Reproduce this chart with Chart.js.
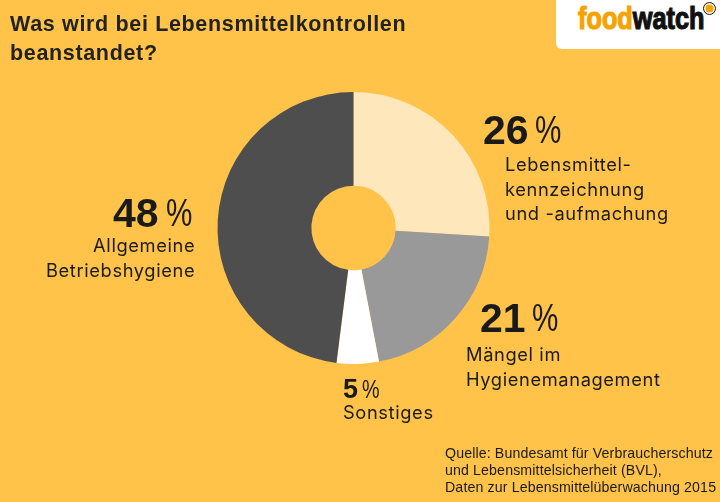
<!DOCTYPE html>
<html lang="de">
<head>
<meta charset="utf-8">
<title>Lebensmittelkontrollen</title>
<script src="https://cdn.jsdelivr.net/npm/chart.js@4"></script>
<style>
  html, body { margin: 0; padding: 0; }
  body { width: 720px; height: 502px; background: #ffc34a; position: relative; overflow: hidden; font-family: "Liberation Sans", sans-serif; color: #1a1a1a; }
  canvas { position: absolute; left: 0; top: 0; }
  .txt { position: absolute; white-space: pre; }
  #title { left: 10px; top: 10px; font-size: 21.5px; line-height: 29px; font-weight: bold; letter-spacing: 0.66px; color: #222; }
  #logoBox { position: absolute; left: 556px; top: 0; width: 164px; height: 49px; background: #fff; border-bottom-left-radius: 6px; }
  #logo { left: 578px; top: 1px; font-weight: bold; font-size: 30.5px; line-height: 34px; transform-origin: 0 0; transform: scaleX(0.83); color: #111; -webkit-text-stroke: 1.2px currentColor; }
  #logo span { color: #f5a300; }
  #reg { left: 703px; top: 2px; width: 11px; height: 11px; border: 1.5px solid #222; border-radius: 50%; background: #f5a300; box-shadow: inset 0 0 0 1.5px #fff; }
  .pct { line-height: 40px; font-weight: bold; }
  .sign { font-weight: normal; transform-origin: 0 50%; transform: scaleX(0.76); }
  .lab { font-family: Inter, sans-serif; font-size: 18.3px; line-height: 24.5px; letter-spacing: 0.62px; }
  #source { left: 445px; top: 444.5px; font-size: 14.2px; line-height: 17px; letter-spacing: 0.12px; }
</style>
</head>
<body>
<canvas id="pieChart" width="720" height="502"></canvas>
<div id="title" class="txt"></div>
<div id="logoBox"></div>
<div id="logo" class="txt"><span>food</span>watch</div>
<div id="reg" class="txt"></div>
<div id="source" class="txt"></div>
<script>
const titleLines = ["Was wird bei Lebensmittelkontrollen", "beanstandet?"];
const categories = ["Lebensmittelkennzeichnung und -aufmachung", "Mängel im Hygienemanagement", "Sonstiges", "Allgemeine Betriebshygiene"];
const shares = [26, 21, 5, 48];
const sliceColors = ["#fee8bb", "#999999", "#ffffff", "#4e4e4e"];
const sourceLines = ["Quelle: Bundesamt für Verbraucherschutz", "und Lebensmittelsicherheit (BVL),", "Daten zur Lebensmittelüberwachung 2015"];

// one entry per slice, same order as shares
const labelLines = [
  ["Lebensmittel-", "kennzeichnung", "und -aufmachung"],
  ["Mängel im", "Hygienemanagement"],
  ["Sonstiges"],
  ["Allgemeine", "Betriebshygiene"],
];
const pctPos = [[483, 110], [480, 298], [343, 369], [113, 193]];
const signPos = [[535, 110], [532, 298], [362, 369], [166, 193]];
const labPos = [[505, 152], [466, 342], [343, 400], [46, 233]];
const pctSize = [41, 41, 27, 41];
const signSize = [39, 39, 26, 39];
const labAlign = ["left", "left", "left", "right"];

document.getElementById("title").textContent = titleLines.join("\n");
document.getElementById("source").textContent = sourceLines.join("\n");

function addText(cls, text, pos, size) {
  const el = document.createElement("div");
  el.className = "txt " + cls;
  el.style.left = pos[0] + "px";
  el.style.top = pos[1] + "px";
  if (size) el.style.fontSize = size + "px";
  el.textContent = text;
  document.body.appendChild(el);
  return el;
}

shares.forEach((v, i) => {
  addText("pct", String(v), pctPos[i], pctSize[i]);
  addText("pct sign", "%", signPos[i], signSize[i]);
  addText("lab", labelLines[i].join("\n"), labPos[i]).style.textAlign = labAlign[i];
});

new Chart(document.getElementById("pieChart").getContext("2d"), {
  type: "doughnut",
  data: {
    labels: categories,
    datasets: [{ data: shares, backgroundColor: sliceColors, borderWidth: 0 }],
  },
  options: {
    responsive: false,
    animation: false,
    cutout: "31%",
    layout: { padding: { left: 217.5, right: 230.5, top: 92, bottom: 138 } },
    plugins: { legend: { display: false }, tooltip: { enabled: false } },
  },
});
</script>
</body>
</html>
